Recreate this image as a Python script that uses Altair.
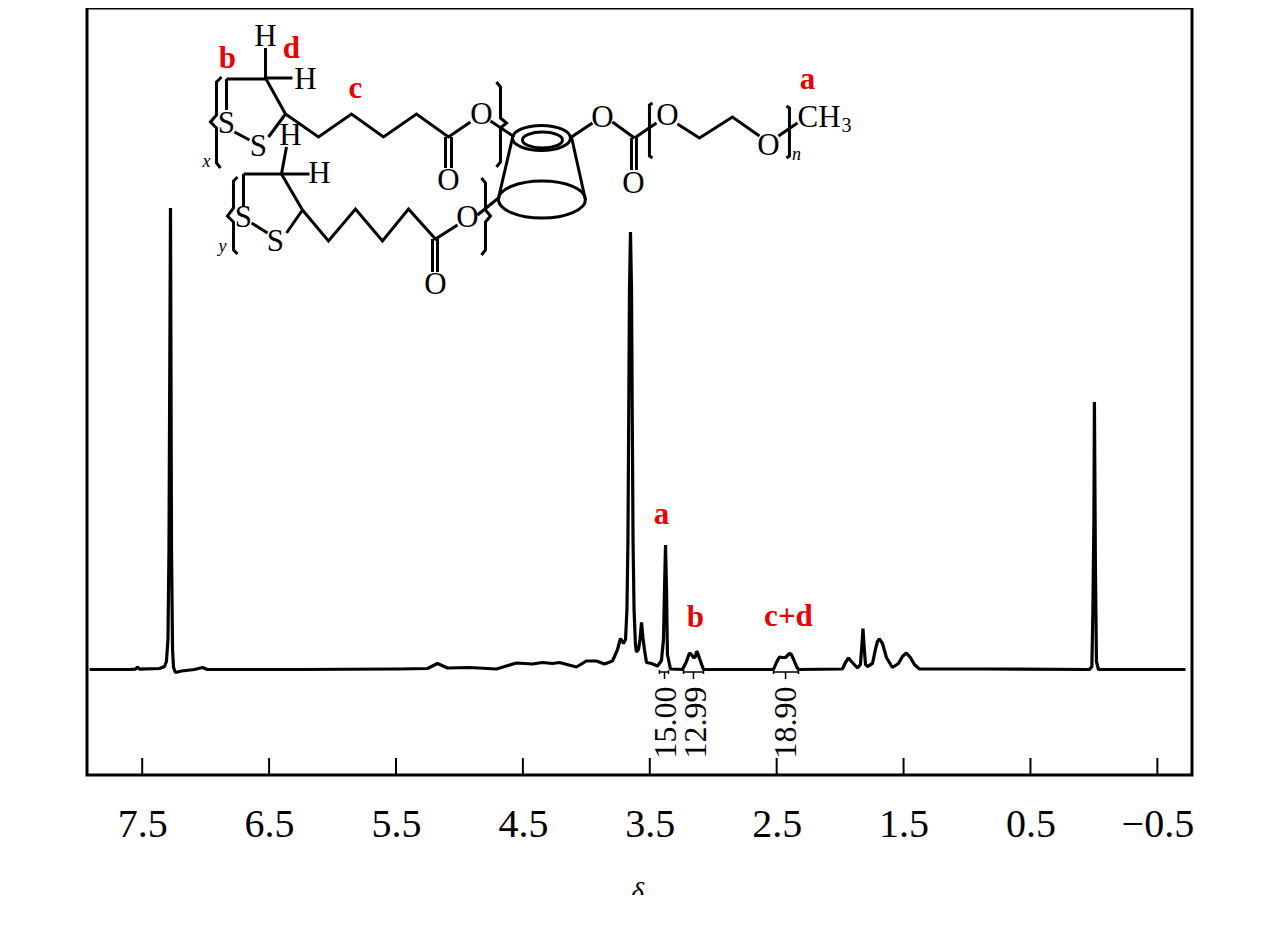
import altair as alt
import pandas as pd

# ---- spectrum (ppm, relative intensity) ----
ppm = [7.915,7.60,7.553,7.537,7.521,7.364,7.324,7.309,7.297,7.289,7.277,7.269,7.261,7.253,7.238,7.190,7.088,7.025,6.986,
       6.26,5.512,5.472,5.252,5.173,5.094,4.921,4.708,4.551,4.425,4.346,4.267,4.212,4.078,4.0,3.92,3.857,3.794,3.754,3.731,
       3.707,3.691,3.680,3.672,3.660,3.652,3.644,3.632,3.624,3.613,3.605,3.589,3.577,3.565,3.554,3.542,3.526,3.487,3.439,
       3.408,3.392,3.384,3.376,3.368,3.361,3.337,3.242,3.211,3.187,3.171,3.156,3.148,3.140,3.132,3.124,3.108,3.077,
       2.525,2.502,2.478,2.454,2.431,2.399,2.384,2.368,2.344,2.328,
       1.982,1.958,1.934,1.911,1.863,1.84,1.828,1.820,1.812,1.8,1.785,1.745,1.722,1.706,1.69,1.666,1.635,1.588,1.54,1.509,
       1.478,1.446,1.415,1.375,0.823,0.035,0.016,0.008,0.0,-0.004,-0.012,-0.02,-0.036,-0.722]
intensity = [0,0,0.3,2.5,0.3,1,3,8,30,120,461.5,120,20,2,-3,-1.5,0,2,0,
             0,0.5,0.5,1,6,1.5,2,0.5,6.5,5.5,7,6,7,2.5,8.5,8.5,5.5,8.5,20,31,
             26,30,60,130,380,437.5,380,130,60,25,17.5,20,30,47,32,20,7,6,3.5,
             9,30,80,124.5,80,15,0.5,0,8,16.5,15,12,12,13,18,17,11,0,
             0,7,12.5,12,12,16,15,10.5,3,0,
             0.5,7,11.5,8,1.5,5,25,41,25,5,3,6,20,28,30.5,26,12,2,6,13,
             16.5,12,5,0.5,0.5,0,3,60,150,267.5,100,8,0,0]

tick_values = [7.5,6.5,5.5,4.5,3.5,2.5,1.5,0.5,-0.5]
x_domain = [7.935,-0.773]
y_domain = [-105.5,661.5]

# ---- integrals ----
int_labels = ["15.00","12.99","18.90"]
int_center = [3.384,3.156,2.43]
int_left = [3.424,3.234,2.525]
int_right = [3.352,3.077,2.328]

# ---- molecule sketch, in sketch units ----
bonds = [
 (266,48,266,78),(266,78,293,78),(227,79,266,79),(227,79,227,110),(266,78,286,114),
 (235,132,250,140),(269,137,286,114),
 (446,137,446,168),(452,137,452,168),(491,121,515,137),
 (287,147,282,174),(244,174,310,174),(244,174,244,207),(282,174,303,210),
 (252,223,268,233),(287,233,303,210),
 (433,239,433,272),(438,239,438,272),(478,215,499,198),(499,198,513,138),
 (572,137,586,200),(572,137,593,123),(613,122,635,138),
 (632,138,632,170),(637,138,637,170),(635,138,657,123),(779,136,798,123),
]
paths = [
 [(286,114),(319,137),(352,114),(384,137),(417,114),(449,137),(471,122)],
 [(303,210),(329,241),(356,209),(383,241),(409,209),(436,239),(458,225)],
 [(678,124),(700,138),(733,117),(760,136)],
 [(653,103),(650,105),(650,156),(653,158)],
 [(787,106),(790,108),(790,156),(787,158)],
 [(222,77),(217,82),(217,115),(211,122),(217,128),(217,163),(221,168)],
 [(497,82),(501,87),(501,118),(507,123),(501,128),(501,162),(497,167)],
 [(238,177),(234,181),(234,208),(228,216),(234,222),(234,250),(238,254)],
 [(482,178),(486,183),(486,210),(491,216),(486,222),(486,250),(482,255)],
]
atoms = [("H",266,37),("H",306,80),("S",227,124),("S",259,147),("O",482,115),("O",449,181),
         ("H",291,136),("H",320,174),("S",244,218),("S",276,242),("O",468,218),("O",436,285),
         ("O",603,118),("O",634,184),("O",668,116),("O",769,146)]
red_labels = [("b",228,59),("d",292,49),("c",356,89),("a",808,80),("a",662,515),("b",696,618),("c+d",789,617)]
subs = [("n",797,155),("x",207,162),("y",223,247)]

def sx(v): return 8.6245 - 0.00788 * v
def sy(v): return 669.5 - v

def ellipse_path(r):
    k = 0.5523
    return (f"M-1,0 C-1,{-k*r:.4f} {-k:.4f},{-r:.4f} 0,{-r:.4f} C{k:.4f},{-r:.4f} 1,{-k*r:.4f} 1,0 "
            f"C1,{k*r:.4f} {k:.4f},{r:.4f} 0,{r:.4f} C{-k:.4f},{r:.4f} -1,{k*r:.4f} -1,0 Z")

SERIF = "Liberation Serif"
xs = alt.Scale(domain=x_domain, nice=False, zero=False)
ys = alt.Scale(domain=y_domain, nice=False, zero=False)
x_axis = alt.Axis(
    values=tick_values, ticks=False, domain=False, grid=False, format=".1f",
    labelFont=SERIF, labelFontSize=40, labelColor="black", labelPadding=29, labelFlush=False,
    labelOverlap=False, labelAngle=0,
    titleFont=SERIF, titleFontStyle="italic", titleFontWeight="normal", titleFontSize=28,
    titleColor="black", titlePadding=34, titleX=550)
X = lambda f="x": alt.X(f"{f}:Q", scale=xs, axis=x_axis, title="δ")
Y = lambda f="y": alt.Y(f"{f}:Q", scale=ys, axis=None)

spec = pd.DataFrame({"x": ppm, "y": intensity, "o": range(len(ppm))})
line = alt.Chart(spec).mark_line(color="black", strokeWidth=3.2, strokeJoin="bevel").encode(
    x=X(), y=Y(), order="o:Q")

ticks = alt.Chart(pd.DataFrame({"x": tick_values, "y": -105.5, "y2": -88.5})).mark_rule(
    color="black", strokeWidth=2).encode(x=X(), y=Y(), y2="y2:Q")

# integrals
rows = []
for l, c, r in zip(int_left, int_center, int_right):
    rows += [(l, -2.5, r, -2.5), (l, -0.5, l, -4.5), (r, -0.5, r, -4.5), (c, -2.5, c, -9.5)]
integ = alt.Chart(pd.DataFrame(rows, columns=["x", "y", "x2", "y2"])).mark_rule(
    color="black", strokeWidth=1.5).encode(x=X(), y=Y(), x2="x2:Q", y2="y2:Q")
int_text = alt.Chart(pd.DataFrame({"t": int_labels, "x": [3.37, 3.135, 2.43], "y": [-53, -53, -53]})).mark_text(
    font=SERIF, fontSize=32, angle=270, color="black").encode(x=X(), y=Y(), text="t:N")

# molecule
bond_df = pd.DataFrame([(sx(a), sy(b), sx(c), sy(d)) for a, b, c, d in bonds], columns=["x", "y", "x2", "y2"])
bond_layer = alt.Chart(bond_df).mark_rule(color="black", strokeWidth=3).encode(x=X(), y=Y(), x2="x2:Q", y2="y2:Q")

path_rows = [(i, j, sx(a), sy(b)) for i, p in enumerate(paths) for j, (a, b) in enumerate(p)]
path_layer = alt.Chart(pd.DataFrame(path_rows, columns=["g", "o", "x", "y"])).mark_line(
    color="black", strokeWidth=3, strokeJoin="miter").encode(x=X(), y=Y(), detail="g:N", order="o:Q")

def ell(cx, cy, rx, ry, sw=3):
    return alt.Chart(pd.DataFrame({"x": [sx(cx)], "y": [sy(cy)]})).mark_point(
        shape=ellipse_path(ry / rx), size=(2 * rx) ** 2, filled=False, stroke="black",
        strokeWidth=sw, opacity=1).encode(x=X(), y=Y())

def text_layer(rows, size, color="black", weight="normal", style="normal"):
    df = pd.DataFrame([(t, sx(a), sy(b)) for t, a, b in rows], columns=["t", "x", "y"])
    return alt.Chart(df).mark_text(font=SERIF, fontSize=size, color=color, fontWeight=weight,
                                   fontStyle=style).encode(x=X(), y=Y(), text="t:N")

atom_layer = text_layer(atoms, 31)
ch_layer = alt.Chart(pd.DataFrame({"t": ["CH"], "x": [sx(798)], "y": [sy(118)]})).mark_text(
    font=SERIF, fontSize=31, align="left", color="black").encode(x=X(), y=Y(), text="t:N")
three = text_layer([("3", 847, 126)], 20)
sub_layer = text_layer(subs, 18, style="italic")
red_layer = text_layer(red_labels, 31, color="#ee0000", weight="bold")

chart = alt.layer(
    line, ticks, integ, int_text, bond_layer, path_layer,
    ell(542, 138, 29, 12.5), ell(543, 140, 20, 8), ell(542.5, 199.5, 43.5, 18.5),
    atom_layer, ch_layer, three, sub_layer, red_layer,
).properties(
    width=1105, height=767,
    padding={"left": 79, "top": 0, "right": 40, "bottom": 120},
    autosize=alt.AutoSizeParams(type="none"),
    background="white",
).configure_view(stroke="black", strokeWidth=3)

chart.save("out.html", embed_options={"renderer": "svg", "actions": False})
